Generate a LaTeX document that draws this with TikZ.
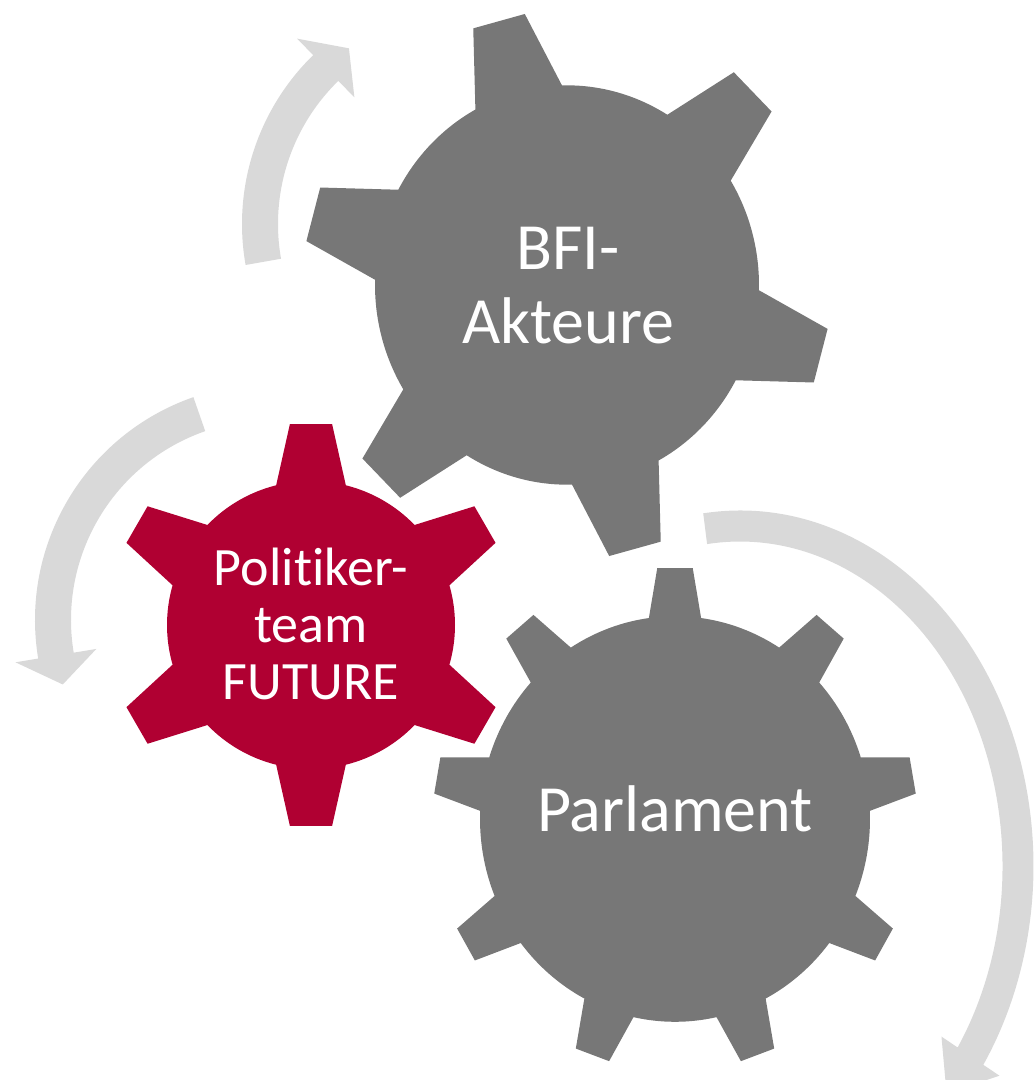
\documentclass[tikz,border=0pt]{standalone}
\usepackage{fontspec}
\setmainfont{Carlito}[Ligatures=NoCommon]
\usepackage{tikz}

\definecolor{gearGray}{HTML}{777777}
\definecolor{teamRed}{HTML}{B00032}
\definecolor{arrowGray}{HTML}{D9D9D9}

% gear outline: teeth, step, first tooth, inner r, outer r, base half angle, top half angle
\newcommand{\gearpath}[7]{(#3-#6:#4) \foreach \k in {1,...,#1} {
    -- (#3+\k*#2-#2-#7:#5) -- (#3+\k*#2-#2+#7:#5) -- (#3+\k*#2-#2+#6:#4)
    arc[start angle=#3+\k*#2-#2+#6, end angle=#3+\k*#2-#6, radius=#4]} -- cycle}

% curved arrow: x radius, y radius, half width, head half width, tail, neck, tip angle
\newcommand{\ringarrow}[7]{\fill[arrowfill] (#5:#1+#3 and #2+#3)
    arc[start angle=#5, end angle=#6, x radius=#1+#3, y radius=#2+#3]
    -- (#6:#1+#4 and #2+#4) -- (#7:#1 and #2) -- (#6:#1-#4 and #2-#4)
    -- (#6:#1-#3 and #2-#3)
    arc[start angle=#6, end angle=#5, x radius=#1-#3, y radius=#2-#3] -- cycle;}

\begin{document}
\begin{tikzpicture}[x=1pt,y=-1pt,
    arrowfill/.style={fill=arrowGray},
    label/.style={text=white, align=center, inner sep=0pt},
    big/.style={font=\fontsize{66}{74}\selectfont},
    small/.style={font=\fontsize{54}{57}\selectfont}]
    \useasboundingbox (0,0) rectangle (1034,1080);

    % arrows
    \begin{scope}[shift={(478,224)}]
        \ringarrow{218}{218}{18}{41}{170}{225.7}{233.7}
    \end{scope}
    \begin{scope}[shift={(271,620)}]
        \ringarrow{218}{218}{18}{41}{250.8}{170.6}{162.8}
    \end{scope}
    \begin{scope}[shift={(740,866)}]
        \ringarrow{278}{340}{15.5}{35}{262.8}{394}{402}
    \end{scope}

    % gears
    \begin{scope}[shift={(567,285)},yscale=1.04]
        \fill[gearGray] \gearpath{6}{60}{15}{192}{264}{13.5}{5.8};
    \end{scope}
    \begin{scope}[shift={(675,819)},yscale=1.04]
        \fill[gearGray] \gearpath{9}{40}{30}{195}{242}{7.7}{4.2};
    \end{scope}
    \begin{scope}[shift={(311,625)}]
        \fill[teamRed] \gearpath{6}{60}{30}{144}{202}{14}{6};
    \end{scope}

    \node[label, big] (bfi) at (568,286) {BFI-\\Akteure};
    \node[label, small] (team) at (311,624) {Politiker-\\team\\FUTURE};
    \node[label, big, anchor=base] (parl) at (675,831) {Parlament};
\end{tikzpicture}
\end{document}
